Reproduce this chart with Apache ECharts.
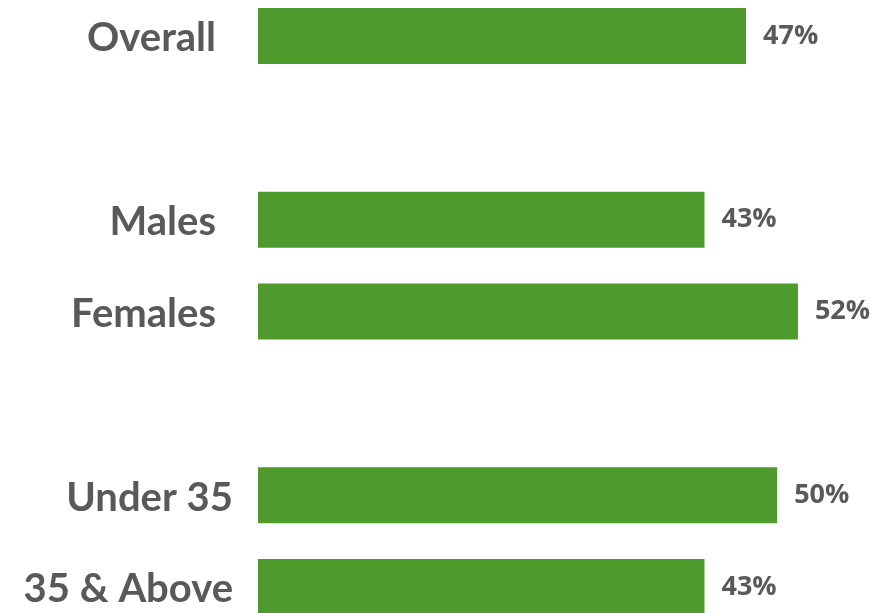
<!DOCTYPE html>
<html><head><meta charset="utf-8">
<script src="https://cdn.jsdelivr.net/npm/echarts@6/dist/echarts.min.js"></script>
<style>html,body{margin:0;padding:0;background:#fff;overflow:hidden}#c{width:882px;height:643px;position:relative;top:-10px}</style>
</head><body><div id="c"></div>
<script>
const categories = ['Overall', '', 'Males', 'Females', '', 'Under 35', '35 & Above'];
const values = [47, null, 43, 52, null, 50, 43];
const longLabels = ['Under 35', '35 & Above'];

const chart = echarts.init(document.getElementById('c'));
chart.setOption({
  animation: false,
  grid: { left: 258, right: 1, top: 0, bottom: 0, containLabel: false },
  xAxis: { type: 'value', min: 0, max: 60, show: false },
  yAxis: {
    type: 'category', data: categories, inverse: true,
    axisLine: { show: false }, axisTick: { show: false },
    axisLabel: {
      margin: 25,
      formatter: function (v) { return longLabels.indexOf(v) >= 0 ? '{b|' + v + '}' : '{a|' + v + '}'; },
      rich: {
        a: { fontFamily: 'Lato', fontWeight: 'bold', fontSize: 40, color: '#595959', padding: [5, 17, 0, 0] },
        b: { fontFamily: 'Lato', fontWeight: 'bold', fontSize: 40, color: '#595959', padding: [5, 0, 0, 0] }
      }
    }
  },
  series: [{
    type: 'bar', data: values, barWidth: 56,
    itemStyle: { color: '#4E9A2C' },
    label: {
      show: true, position: 'right', distance: 17, padding: [4, 0, 0, 0],
      formatter: '{c}%', fontFamily: 'Open Sans', fontWeight: 'bold', fontSize: 27, color: '#595959'
    }
  }]
});
</script></body></html>
